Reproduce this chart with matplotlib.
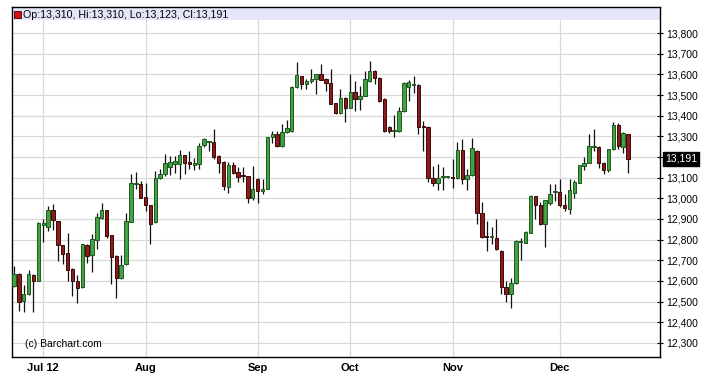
import matplotlib
matplotlib.use('Agg')
import matplotlib.pyplot as plt
import matplotlib.transforms as mtransforms
from matplotlib.patches import Rectangle
import numpy as np

plt.rcParams['font.family'] = ['Liberation Sans', 'DejaVu Sans']

# daily candles, late Jun 2012 -> Dec 21 2012
opens = [12576, 12636, 12505, 12537, 12629, 12602, 12870, 12862, 12943, 12890,
         12772, 12733, 12656, 12602, 12572, 12772, 12725, 12796, 12906, 12942,
         12822, 12720, 12615, 12680, 12887, 13070, 13068, 13006, 12967, 12883,
         13097, 13116, 13153, 13165, 13165, 13209, 13175, 13160, 13165, 13257,
         13272, 13274, 13204, 13176, 13055, 13160, 13128, 13112, 13107, 13003,
         13095, 13035, 13047, 13295, 13311, 13254, 13319, 13327, 13541, 13590,
         13554, 13566, 13578, 13600, 13578, 13559, 13460, 13413, 13486, 13438,
         13514, 13481, 13497, 13567, 13616, 13584, 13481, 13347, 13329, 13327,
         13421, 13538, 13552, 13549, 13349, 13345, 13100, 13076, 13103, 13104,
         13105, 13097, 13234, 13092, 13111, 13229, 12931, 12816, 12812, 12806,
         12745, 12571, 12539, 12589, 12790, 12785, 12833, 13010, 12966, 12877,
         12977, 13029, 13031, 12969, 12946, 13027, 13076, 13157, 13172, 13247,
         13249, 13173, 13136, 13238, 13355, 13249, 13310]
highs = [12672, 12640, 12581, 12653, 12632, 12885, 12898, 12963, 12971, 12892,
         12775, 12830, 12665, 12628, 12780, 12777, 12825, 12930, 12975, 12944,
         12824, 12728, 12728, 12930, 13119, 13129, 13084, 13076, 12970, 13132,
         13140, 13213, 13205, 13205, 13233, 13212, 13228, 13197, 13266, 13290,
         13278, 13334, 13208, 13180, 13176, 13176, 13152, 13152, 13110, 13155,
         13098, 13095, 13298, 13327, 13327, 13360, 13379, 13546, 13660, 13594,
         13578, 13627, 13603, 13648, 13582, 13624, 13463, 13527, 13489, 13600,
         13570, 13546, 13616, 13664, 13619, 13587, 13484, 13350, 13405, 13441,
         13562, 13574, 13591, 13552, 13373, 13348, 13156, 13164, 13153, 13110,
         13189, 13273, 13285, 13140, 13290, 13232, 12982, 12890, 12861, 12902,
         12748, 12600, 12616, 12797, 12810, 12840, 13015, 13012, 12982, 12993,
         13068, 13071, 13092, 13023, 13092, 13087, 13163, 13198, 13311, 13335,
         13252, 13176, 13241, 13368, 13363, 13322, 13310]
lows = [12570, 12454, 12452, 12530, 12452, 12598, 12790, 12841, 12846, 12696,
        12683, 12599, 12526, 12491, 12568, 12688, 12641, 12753, 12900, 12806,
        12583, 12518, 12610, 12676, 12883, 13043, 13000, 12938, 12777, 12880,
        13092, 13110, 13113, 13124, 13095, 13117, 13144, 13136, 13144, 13249,
        13230, 13188, 13123, 13042, 13027, 13118, 13079, 13079, 12977, 12990,
        12979, 13023, 13043, 13270, 13250, 13250, 13315, 13322, 13535, 13527,
        13527, 13559, 13506, 13572, 13519, 13455, 13408, 13410, 13368, 13435,
        13421, 13429, 13494, 13564, 13554, 13468, 13322, 13318, 13298, 13320,
        13418, 13470, 13510, 13311, 13230, 13081, 13060, 13039, 13039, 13100,
        13048, 13095, 13071, 13039, 13108, 12874, 12810, 12745, 12777, 12748,
        12539, 12500, 12468, 12585, 12700, 12782, 12830, 12901, 12869, 12763,
        12966, 12987, 12958, 12938, 12925, 13003, 13073, 13136, 13169, 13230,
        13149, 13120, 13128, 13235, 13241, 13217, 13123]
closes = [12636, 12499, 12537, 12634, 12602, 12882, 12882, 12943, 12893, 12772,
          12731, 12651, 12599, 12567, 12777, 12723, 12801, 12909, 12942, 12817,
          12715, 12615, 12677, 12890, 13074, 13074, 13003, 12967, 12877, 13097,
          13118, 13171, 13176, 13180, 13212, 13172, 13168, 13172, 13253, 13285,
          13276, 13201, 13172, 13058, 13160, 13123, 13104, 13107, 13001, 13047,
          13035, 13047, 13295, 13311, 13254, 13322, 13338, 13541, 13595, 13554,
          13566, 13578, 13600, 13575, 13559, 13457, 13412, 13486, 13438, 13514,
          13481, 13497, 13578, 13616, 13584, 13470, 13324, 13324, 13331, 13425,
          13559, 13562, 13554, 13347, 13345, 13100, 13076, 13100, 13105, 13106,
          13097, 13234, 13092, 13111, 13242, 12931, 12813, 12814, 12814, 12753,
          12571, 12539, 12592, 12794, 12794, 12837, 13011, 12969, 12874, 12990,
          13023, 13033, 12966, 12953, 13039, 13079, 13160, 13173, 13253, 13251,
          13172, 13136, 13238, 13355, 13254, 13314, 13191]

month_labels = ['Jul 12', 'Aug', 'Sep', 'Oct', 'Nov', 'Dec']
month_start = [6, 27, 50, 69, 90, 112]   # candle index of first session
y_ticks = list(range(12300, 13900, 100))

o = np.array(opens)
h = np.array(highs)
l = np.array(lows)
c = np.array(closes)
x = np.arange(len(o))
up = c >= o

fig = plt.figure(figsize=(7.04, 3.79), dpi=100)
ax = fig.add_axes([12/704, 22/379, 648/704, 350/379])

ax.set_xlim(-0.41, 132.57)
ax.set_ylim(12232, 13926)

# wicks + bodies
ax.vlines(x, l, h, color='#111111', lw=0.9, zorder=3)
body = np.maximum(np.abs(c - o), 5)
bot = np.minimum(o, c) - (body - np.abs(c - o)) / 2
face = np.where(up, '#44a044', '#8c1c1c')
edge = np.where(up, '#1d5a1d', '#3a0808')
ax.bar(x, body, width=0.7, bottom=bot, color=face, edgecolor=edge, lw=0.7, zorder=4)

# axes look
for s in ax.spines.values():
    s.set_color('black')
    s.set_linewidth(1)
ax.grid(True, color='#d9d9d9', lw=0.9)
ax.set_axisbelow(True)

ax.yaxis.tick_right()
ax.set_yticks(y_ticks)
ax.set_yticklabels(['' if v == 13200 else f'{v:,}' for v in y_ticks])
ax.tick_params(axis='y', direction='inout', length=5, width=0.8, pad=2, labelsize=7.5)
ax.set_xticks(month_start)
ax.set_xticklabels(month_labels, fontweight='bold', fontsize=8)
ax.tick_params(axis='x', length=0, pad=4)

# last price box on the axis
trans = mtransforms.blended_transform_factory(ax.transAxes, ax.transData)
ax.text(1.0075, closes[-1], f'{closes[-1]:,}', transform=trans, ha='left', va='center',
        color='white', fontsize=7.5,
        bbox=dict(facecolor='black', edgecolor='black', pad=1.3), clip_on=False)

# header band
ax.add_patch(Rectangle((0, 1 - 13/350), 1, 13/350, transform=ax.transAxes,
                       facecolor='#e6e6fa', edgecolor='none', zorder=2))
ax.add_patch(Rectangle((2/648, 1 - 11/350), 7/648, 7/350, transform=ax.transAxes,
                       facecolor='#d41010', edgecolor='#400000', lw=0.6, zorder=5))
ax.text(11/648, 1 - 8/350,
        f'Op:{opens[-1]:,}, Hi:{highs[-1]:,}, Lo:{lows[-1]:,}, Cl:{closes[-1]:,}',
        transform=ax.transAxes, va='center', ha='left', fontsize=7.7, zorder=6)

ax.text(13/648, 13/350, '(c) Barchart.com', transform=ax.transAxes,
        va='center', ha='left', fontsize=7.5)

fig.savefig('out.png', dpi=100)
